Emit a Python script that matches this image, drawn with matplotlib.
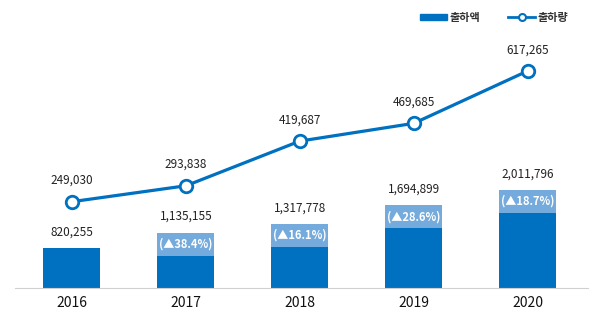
import matplotlib.pyplot as plt
import numpy as np

plt.rcParams['font.family'] = ['Noto Sans CJK KR', 'DejaVu Sans']

years = ['2016', '2017', '2018', '2019', '2020']
amount = [820255, 1135155, 1317778, 1694899, 2011796]   # 출하액
volume = [249030, 293838, 419687, 469685, 617265]       # 출하량
growth = [None, 38.4, 16.1, 28.6, 18.7]                 # 전년 대비 증가율(%)

dark = '#0070C0'
light = '#74AADC'
band = 472000  # height of the light label band on top of each bar

fig = plt.figure(figsize=(6, 3.24), dpi=100)
ax = fig.add_axes([15 / 600, 36 / 324, 573 / 600, 248 / 324])
ax2 = ax.twinx()

x = np.arange(len(years))
ax.bar(x, amount, width=0.5, color=dark, zorder=2)
for i, (v, g) in enumerate(zip(amount, growth)):
    if g is not None:
        ax.bar(i, band, bottom=v - band, width=0.5, color=light, zorder=3)
        ax.text(i, v - band / 2, f'(\u25b2{g:.1f}%)', ha='center', va='center',
                color='white', fontsize=8, fontweight='bold', zorder=4)
    ax.text(i, v + 330000, f'{v:,}', ha='center', va='center',
            fontsize=8.5, color='#222222')

ax.set_xlim(-0.5, 4.53)
ax.set_ylim(0, 5091000)
ax2.set_ylim(5900, 704500)

ax2.plot(x, volume, color=dark, lw=2.3, marker='o', markersize=9,
         markerfacecolor='white', markeredgecolor=dark, markeredgewidth=2,
         zorder=5)
for i, v in enumerate(volume):
    ax2.text(i, v + 60000, f'{v:,}', ha='center', va='center',
             fontsize=8.5, color='#222222')

for a in (ax, ax2):
    for s in a.spines.values():
        s.set_visible(False)
    a.set_yticks([])
ax.spines['bottom'].set_visible(True)
ax.spines['bottom'].set_color('#D0D0D0')
ax.set_xticks(x, years)
ax.tick_params(axis='x', length=0, pad=6, labelsize=10, labelcolor='#111111')

# legend
fig.patches.append(plt.Rectangle((420 / 600, 1 - 20 / 324), 27 / 600, 6 / 324,
                                 transform=fig.transFigure, color=dark))
fig.text(450 / 600, 1 - 17 / 324, '출하액', fontsize=8, fontweight='bold',
         color='#333333', va='center')
fig.lines.append(plt.Line2D([508 / 600, 535 / 600], [1 - 17 / 324] * 2,
                            transform=fig.transFigure, color=dark, lw=2))
fig.lines.append(plt.Line2D([521.5 / 600], [1 - 17 / 324], transform=fig.transFigure,
                            marker='o', markersize=5, markerfacecolor='white',
                            markeredgecolor=dark, markeredgewidth=1.5))
fig.text(538 / 600, 1 - 17 / 324, '출하량', fontsize=8, fontweight='bold',
         color='#333333', va='center')

fig.savefig('out.png', dpi=100)
